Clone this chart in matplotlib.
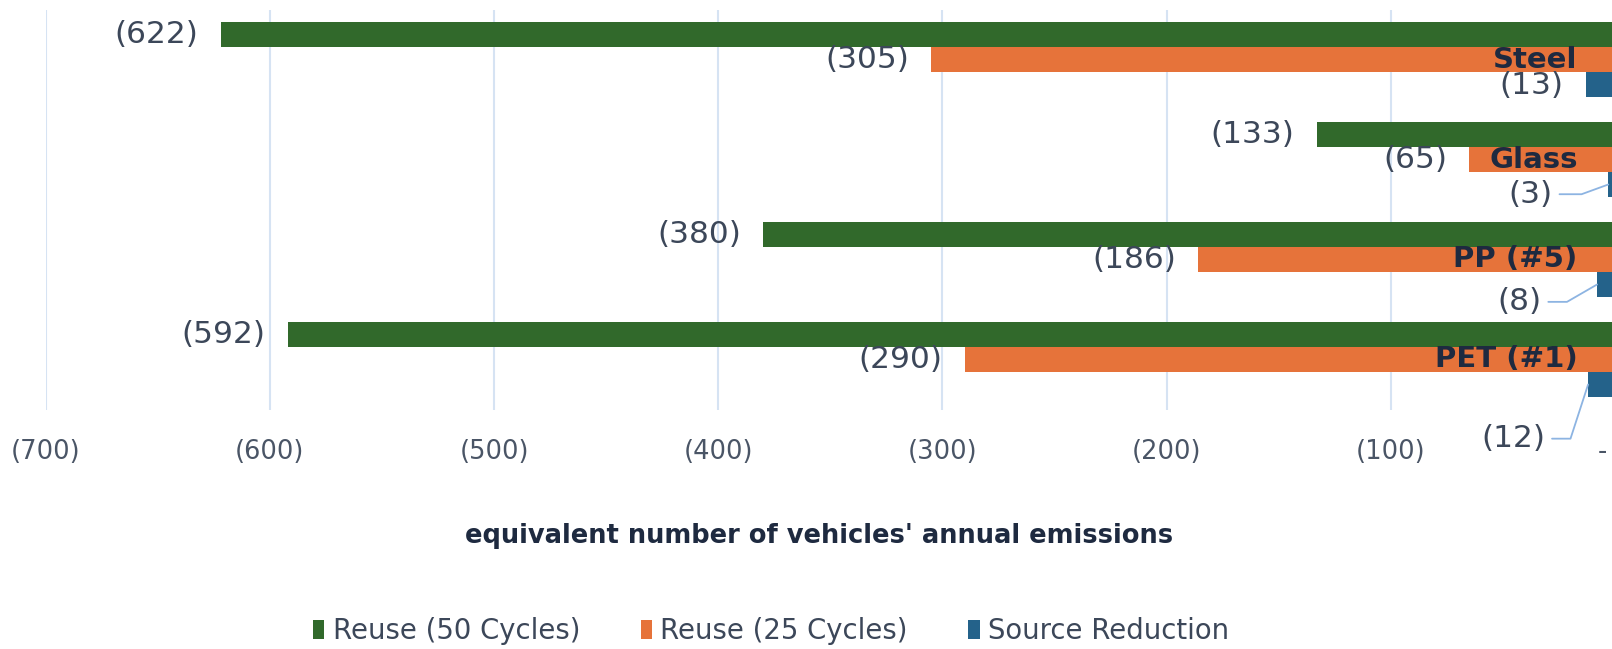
import numpy as np
import matplotlib
matplotlib.use("Agg")
import matplotlib.pyplot as plt
from matplotlib.patches import Patch
from matplotlib.ticker import FuncFormatter

# data (negative = avoided emissions)
categories = ["Steel", "Glass", "PP (#5)", "PET (#1)"]
reuse_50 = [-622, -133, -380, -592]
reuse_25 = [-305, -65, -186, -290]
source_red = [-13, -3, -8, -12]
series_names = ["Reuse (50 Cycles)", "Reuse (25 Cycles)", "Source Reduction"]
x_ticks = [-700, -600, -500, -400, -300, -200, -100, 0]

green = "#31692B"
orange = "#E6733A"
blue = "#24628A"
navy = "#1E2A40"
label_col = "#3C4759"
grid_col = "#D6E3F3"

W, H = 1612, 649
fig = plt.figure(figsize=(W / 100, H / 100), dpi=100)
# plot area: x from 45.7px to 1615px (0 sits just past the right edge)
ax = fig.add_axes([45.7 / W, 1 - 409.5 / H, (1615 - 45.7) / W, 400 / H])

pos = np.arange(len(categories))
h = 0.25
b1 = ax.barh(pos - h, reuse_50, height=h, color=green)
b2 = ax.barh(pos, reuse_25, height=h, color=orange)
b3 = ax.barh(pos + h, source_red, height=h, color=blue)

ax.set_xlim(-700, 0)
ax.set_ylim(len(categories) - 0.5, -0.5)
ax.set_xticks(x_ticks)
ax.xaxis.set_major_formatter(FuncFormatter(
    lambda v, p: "-   " if v == 0 else f"({abs(v):,.0f})"))
ax.grid(axis='x', color=grid_col, linewidth=1.5)
ax.set_axisbelow(True)
for s in ax.spines.values():
    s.set_visible(False)
ax.tick_params(axis='x', length=0, pad=21.5, labelsize=18.5, labelcolor="#4A5566")

# category labels sit just left of the zero line, on top of the bars
ax.set_yticks(pos)
ax.set_yticklabels(categories)
ax.yaxis.tick_right()
ax.yaxis.set_zorder(5)
ax.tick_params(axis='y', length=0, pad=-27, labelsize=21, labelcolor=navy)
for lbl in ax.get_yticklabels():
    lbl.set_ha('right')
    lbl.set_va('center')
    lbl.set_fontweight('bold')

def fmt(v):
    return f"({abs(v):,.0f})"

# data labels, outside end
for bars, vals in ((b1, reuse_50), (b2, reuse_25)):
    for rect, v in zip(bars, vals):
        ax.annotate(fmt(v), (v, rect.get_y() + h / 2), xytext=(-16, 0),
                    textcoords='offset points', ha='right', va='center',
                    fontsize=22.5, color=label_col)

# source reduction labels (some pulled out with leader lines)
leaders = {
    0: None,
    1: ((-56, -7), 20),
    2: ((-56, -12.5), 30),
    3: ((-54, -39), 72),
}
for i, (rect, v) in enumerate(zip(b3, source_red)):
    yc = rect.get_y() + h / 2
    lead = leaders[i]
    if lead is None:
        ax.annotate(fmt(v), (v, yc), xytext=(-16, -1), textcoords='offset points',
                    ha='right', va='center', fontsize=22.5, color=label_col)
    else:
        off, ang = lead
        ax.annotate(fmt(v), (v, yc), xytext=off, textcoords='offset points',
                    ha='center', va='center', fontsize=22.5, color=label_col,
                    arrowprops=dict(arrowstyle='-', color="#8DB4E2", lw=1.3,
                                    shrinkA=3, shrinkB=0,
                                    connectionstyle=f"angle,angleA=0,angleB={ang},rad=0"))

ax.set_xlabel("equivalent number of vehicles' annual emissions",
              fontsize=18.5, fontweight='bold', color=navy, va='center')
ax.xaxis.set_label_coords((819 - 45.7) / (1615 - 45.7), (113 - 239.5) / 400)

handles = [Patch(facecolor=c) for c in (green, orange, blue)]
fig.legend(handles, series_names, loc='center', ncol=3, frameon=False,
           bbox_to_anchor=(771 / W, (H - 631) / H), fontsize=19.8,
           handlelength=0.42, handleheight=0.65, handletextpad=0.3,
           columnspacing=2.2, labelcolor=label_col)

fig.savefig("out.png", dpi=100)
